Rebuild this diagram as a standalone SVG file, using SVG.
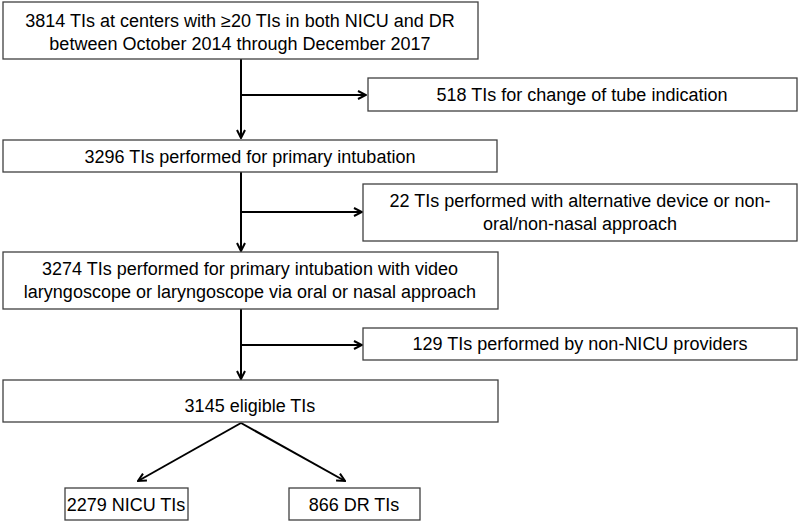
<svg xmlns="http://www.w3.org/2000/svg" width="800" height="523" viewBox="0 0 800 523">
<defs>
<marker id="ah" markerWidth="10" markerHeight="10" refX="9" refY="5" orient="auto" markerUnits="userSpaceOnUse">
<path d="M1,1 L9,5 L1,9" fill="none" stroke="#000" stroke-width="2"/>
</marker>
<style>
.box{fill:#fff;stroke:#404040;stroke-width:1.3}
.t{font-family:"Liberation Sans",Arial,sans-serif;font-size:18px;fill:#000;text-anchor:middle}
.c{fill:none;stroke:#000;stroke-width:2}
</style>
</defs>
<rect width="800" height="523" fill="#fff"/>
<g id="connectors">
<line class="c" x1="241" y1="59" x2="241" y2="138" marker-end="url(#ah)"/>
<line class="c" x1="241" y1="95" x2="366" y2="95" marker-end="url(#ah)"/>
<line class="c" x1="241" y1="172" x2="241" y2="251" marker-end="url(#ah)"/>
<line class="c" x1="241" y1="212" x2="362" y2="212" marker-end="url(#ah)"/>
<line class="c" x1="241" y1="309" x2="241" y2="379" marker-end="url(#ah)"/>
<line class="c" x1="241" y1="345" x2="362" y2="345" marker-end="url(#ah)"/>
<line class="c" x1="241" y1="423" x2="138" y2="481" marker-end="url(#ah)"/>
<line class="c" x1="241" y1="423" x2="345" y2="481" marker-end="url(#ah)"/>
</g>
<g id="n1"><rect class="box" x="3" y="2" width="475" height="57"/>
<text class="t" x="240" y="27">3814 TIs at centers with ≥20 TIs in both NICU and DR</text>
<text class="t" x="240" y="50">between October 2014 through December 2017</text></g>
<g id="n2"><rect class="box" x="368" y="78" width="429" height="33"/>
<text class="t" x="582" y="101">518 TIs for change of tube indication</text></g>
<g id="n3"><rect class="box" x="3" y="140" width="494" height="32"/>
<text class="t" x="250" y="163">3296 TIs performed for primary intubation</text></g>
<g id="n4"><rect class="box" x="363" y="184" width="434" height="57"/>
<text class="t" x="580" y="207">22 TIs performed with alternative device or non-</text>
<text class="t" x="580" y="230">oral/non-nasal approach</text></g>
<g id="n5"><rect class="box" x="3" y="252" width="495" height="57"/>
<text class="t" x="250" y="275">3274 TIs performed for primary intubation with video</text>
<text class="t" x="250" y="298">laryngoscope or laryngoscope via oral or nasal approach</text></g>
<g id="n6"><rect class="box" x="363" y="328" width="434" height="32"/>
<text class="t" x="580" y="350">129 TIs performed by non-NICU providers</text></g>
<g id="n7"><rect class="box" x="3" y="380" width="495" height="42"/>
<text class="t" x="250" y="412">3145 eligible TIs</text></g>
<g id="n8"><rect class="box" x="65" y="488" width="123" height="32"/>
<text class="t" x="126" y="511">2279 NICU TIs</text></g>
<g id="n9"><rect class="box" x="289" y="488" width="131" height="32"/>
<text class="t" x="354" y="511">866 DR TIs</text></g>
</svg>
